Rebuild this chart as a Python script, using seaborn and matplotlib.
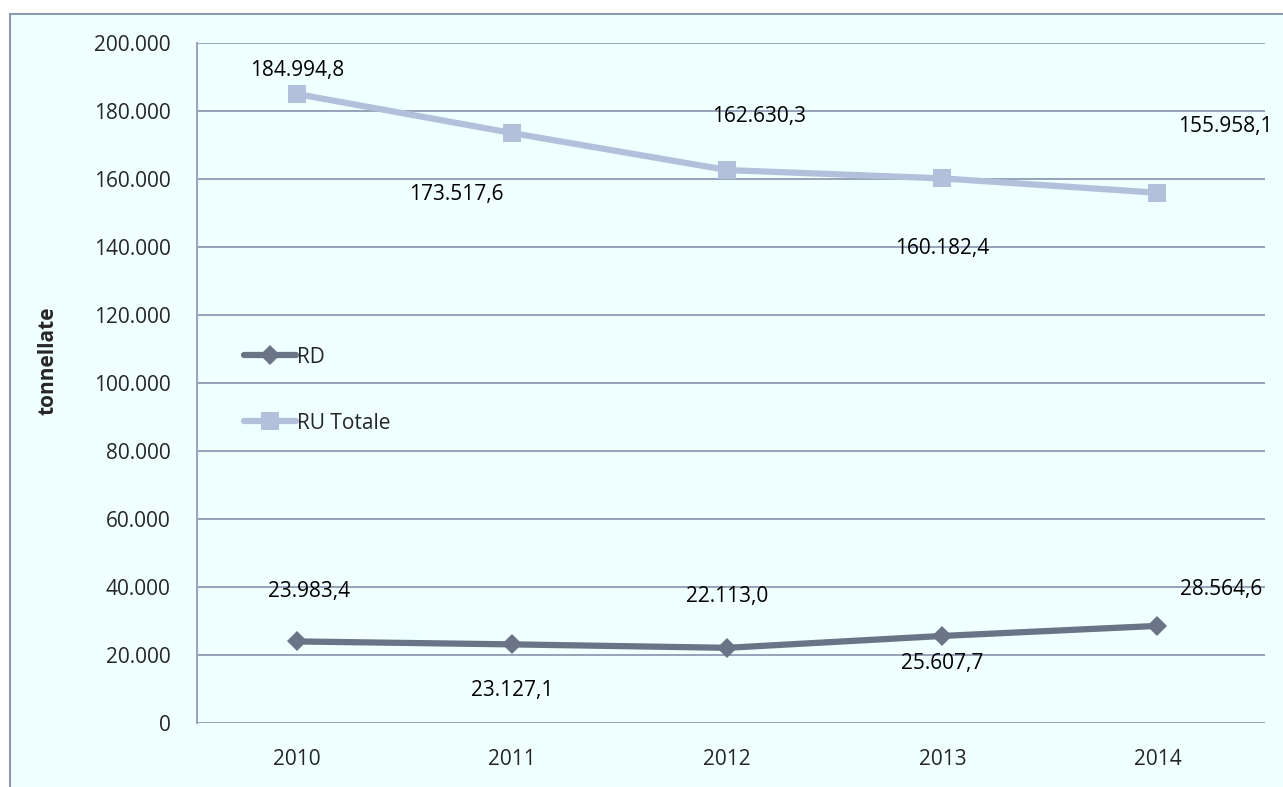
import numpy as np
import pandas as pd
import seaborn as sb
import matplotlib.pyplot as plt
from matplotlib.ticker import FuncFormatter

anni = ["2010", "2011", "2012", "2013", "2014"]
rd = [23983.4, 23127.1, 22113.0, 25607.7, 28564.6]
ru_totale = [184994.8, 173517.6, 162630.3, 160182.4, 155958.1]

# label offsets in pixels (dx, dy) as in the original sheet
off_rd = [(12, 50), (0, -46), (0, 51), (0, -28), (64, 36)]
off_ru = [(0, 24), (-56, -61), (32, 54), (0, -70), (68, 66)]

def it_num(v, dec=0):
    s = f"{v:,.{dec}f}"
    return s.replace(",", "X").replace(".", ",").replace("X", ".")

df = pd.DataFrame({"anno": anni * 2,
                   "valore": rd + ru_totale,
                   "serie": ["RD"] * 5 + ["RU Totale"] * 5})

sb.set_style("white")
plt.rcParams["font.family"] = ["Open Sans", "DejaVu Sans"]
fs = 15

bg = "#F0FFFF"
fig = plt.figure(figsize=(12.83, 7.87), dpi=100, facecolor="white")
fig.patches.append(plt.Rectangle((10 / 1283, -0.01), 1.0, 1 - 14 / 787 + 0.01,
                                 transform=fig.transFigure, facecolor=bg,
                                 edgecolor="#8E9AB3", linewidth=1.5, zorder=-1))
ax = fig.add_axes([197 / 1283, 1 - 723 / 787, (1265 - 197) / 1283, (723 - 43) / 787])
ax.set_facecolor(bg)

colori = {"RD": "#6B7486", "RU Totale": "#B3C0DC"}
marker = {"RD": "D", "RU Totale": "s"}
msize = {"RD": 10, "RU Totale": 13}
for s in ["RD", "RU Totale"]:
    sub = df[df["serie"] == s]
    sb.lineplot(data=sub, x="anno", y="valore", ax=ax, color=colori[s], lw=4.5,
                marker=marker[s], markersize=msize[s], markeredgewidth=0,
                label=s, zorder=3)

for vals, offs in [(rd, off_rd), (ru_totale, off_ru)]:
    for i, (v, (dx, dy)) in enumerate(zip(vals, offs)):
        ax.annotate(it_num(v, 1), (i, v), xytext=(dx, dy), textcoords="offset pixels",
                    ha="center", va="center", fontsize=fs, color="black",
                    annotation_clip=False)

ax.set_ylim(0, 200000)
ax.set_xlim(-0.5 + 7.6 / 215.25, 4.5)
ax.set_yticks(np.arange(0, 200001, 20000))
ax.yaxis.set_major_formatter(FuncFormatter(lambda v, p: it_num(v)))
ax.grid(axis="y", color="#97A1B8", lw=1.4)
ax.set_axisbelow(True)
for sp in ["top", "right", "bottom"]:
    ax.spines[sp].set_visible(False)
ax.spines["left"].set_color("#97A1B8")
ax.spines["left"].set_linewidth(1.4)
ax.tick_params(axis="both", length=0, labelsize=fs)
ax.tick_params(axis="x", pad=19)
ax.tick_params(axis="y", pad=19)
ax.set_xlabel("")
ax.set_ylabel("tonnellate", fontsize=15, fontweight="bold")
ax.yaxis.set_label_coords(-138 / 1068, (723 - 361) / 680)

leg = ax.legend(loc="upper left", bbox_to_anchor=(28 / 1068, 1 - 285 / 680),
                frameon=False, fontsize=fs, handlelength=2.5, handletextpad=0.05,
                labelspacing=2.15)

fig.savefig("out.png", dpi=100, facecolor="white")
